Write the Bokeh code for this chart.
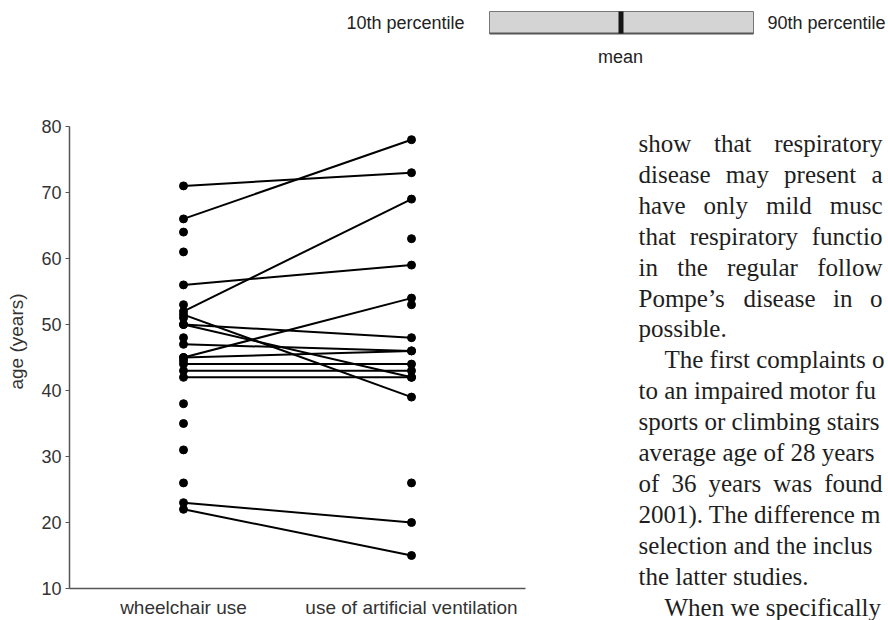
import math
from bokeh.plotting import figure
from bokeh.layouts import column, row
from bokeh.models import Range1d, FactorRange, FixedTicker
from bokeh.core.properties import value
from bokeh.embed import file_html
from bokeh.resources import INLINE

# ---- data ----
categories = ["wheelchair use", "use of artificial ventilation"]
paired_wheelchair = [71, 66, 52, 51.5, 56, 45, 45, 50, 50, 47, 44, 43, 42, 23, 22]
paired_ventilation = [73, 78, 69, 39, 59, 54, 46, 48, 42, 46, 44, 43, 42, 20, 15]
wheelchair_only = [64, 61, 53, 51, 48, 44.5, 38, 35, 31, 26]
ventilation_only = [63, 53, 26]
y_ticks = [10, 20, 30, 40, 50, 60, 70, 80]
y_title = "age (years)"

legend_left = "10th percentile"
legend_right = "90th percentile"
legend_mid = "mean"

# page text beside the chart
text_lines = [
    "show that respiratory",
    "disease may present a",
    "have only mild musc",
    "that respiratory functio",
    "in the regular follow",
    "Pompe\u2019s disease in o",
    "possible.",
    "The first complaints o",
    "to an impaired motor fu",
    "sports or climbing stairs",
    "average age of 28 years",
    "of 36 years was found",
    "2001). The difference m",
    "selection and the inclus",
    "the latter studies.",
    "When we specifically",
]
justified = [0, 1, 2, 3, 4, 5, 11]
indented = [7, 15]

SANS = "Liberation Sans"
SERIF = "Liberation Serif"
W, H = 886, 620
TOP_H = 100
BOT_H = H - TOP_H

# Times / Liberation Serif advance widths (1/1000 em) used to justify lines
TIMES_W = {" ": 250, "a": 444, "b": 500, "c": 444, "d": 500, "e": 444, "f": 333, "g": 500,
           "h": 500, "i": 278, "j": 278, "k": 500, "l": 278, "m": 778, "n": 500, "o": 500,
           "p": 500, "q": 500, "r": 333, "s": 389, "t": 278, "u": 500, "v": 500, "w": 722,
           "x": 500, "y": 500, "z": 444, "P": 556, "T": 611, "W": 944, "(": 333, ")": 333,
           ".": 250, "\u2019": 333, "-": 333}


def tw(s, size):
    return sum(TIMES_W.get(c, 500) for c in s) * size / 1000.0


def blank(width, height, x0, y0):
    f = figure(width=width, height=height, x_range=Range1d(x0, x0 + width),
               y_range=Range1d(y0 + height, y0), output_backend="svg",
               toolbar_location=None, min_border=0)
    f.axis.visible = False
    f.grid.visible = False
    f.outline_line_color = None
    return f


# ---- legend strip (page y 0..100) ----
top = blank(W, TOP_H, 0, 0)
top.quad(left=[489], right=[753], top=[11], bottom=[33], fill_color="#d4d4d4",
         line_color="#777777", line_width=1)
top.segment(x0=[489], y0=[33], x1=[753], y1=[33], line_color="#555555", line_width=2)
top.quad(left=[618], right=[623], top=[11], bottom=[33], fill_color="#151515", line_color=None)
top.text(x=[464], y=[22], text=[legend_left], text_align="right", text_baseline="middle",
         text_font=value(SANS), text_font_size="18px", text_color="#222222")
top.text(x=[767], y=[22], text=[legend_right], text_align="left", text_baseline="middle",
         text_font=value(SANS), text_font_size="18px", text_color="#222222")
top.text(x=[620], y=[56], text=[legend_mid], text_align="center", text_baseline="middle",
         text_font=value(SANS), text_font_size="18px", text_color="#222222")

# ---- y-axis title strip (page x 0..30) ----
YL_W = 30
ylab = blank(YL_W, BOT_H, 0, TOP_H)
ylab.text(x=[16], y=[341], text=[y_title], angle=math.pi / 2, text_align="center",
          text_baseline="middle", text_font=value(SANS), text_font_size="19px",
          text_color="#333333")

# ---- main chart (frame: page x 69..525, page y 126..595) ----
MAIN_W = 560 - YL_W
p = figure(x_range=FactorRange(*categories), y_range=Range1d(10, 80),
           width=MAIN_W, height=BOT_H,
           output_backend="svg", toolbar_location=None,
           min_border_left=69 - YL_W, min_border_right=35,
           min_border_top=26, min_border_bottom=25)
p.grid.visible = False
p.outline_line_color = None

p.yaxis.ticker = FixedTicker(ticks=y_ticks)
p.yaxis.minor_tick_line_color = None
p.yaxis.major_tick_in = 0
p.yaxis.major_tick_out = 4
p.yaxis.major_tick_line_color = "#555555"
p.yaxis.major_label_text_font = SANS
p.yaxis.major_label_text_font_size = "18px"
p.yaxis.major_label_text_color = "#333333"
p.yaxis.major_label_standoff = 4

p.xaxis.major_tick_line_color = None
p.xaxis.minor_tick_line_color = None
p.xaxis.major_label_text_font = SANS
p.xaxis.major_label_text_font_size = "19px"
p.xaxis.major_label_text_color = "#333333"
p.xaxis.major_label_standoff = 2

for ax in (p.xaxis, p.yaxis):
    ax.axis_line_color = "#555555"
    ax.axis_line_width = 1.5

n = len(paired_wheelchair)
p.segment(x0=[categories[0]] * n, y0=paired_wheelchair,
          x1=[categories[1]] * n, y1=paired_ventilation,
          line_color="black", line_width=2)
p.scatter(x=[categories[0]] * n, y=paired_wheelchair, size=8, color="black")
p.scatter(x=[categories[1]] * n, y=paired_ventilation, size=8, color="black")
p.scatter(x=[categories[0]] * len(wheelchair_only), y=wheelchair_only, size=8, color="black")
p.scatter(x=[categories[1]] * len(ventilation_only), y=ventilation_only, size=8, color="black")

# ---- page text (page x 560..886) ----
FS = 25
LEFT, RIGHT, INDENT = 638, 882, 26
t = blank(W - 560, BOT_H, 560, TOP_H)
wx, wy, wt = [], [], []
for i, line in enumerate(text_lines):
    base = 143.0 + 30.9 * i
    x0 = LEFT + (INDENT if i in indented else 0)
    if i in justified:
        words = line.split(" ")
        widths = [tw(w_, FS) for w_ in words]
        gap = (RIGHT - x0 - sum(widths)) / (len(words) - 1)
        x = x0
        for w_, wd in zip(words, widths):
            wx.append(x); wy.append(base); wt.append(w_)
            x += wd + gap
    else:
        wx.append(x0); wy.append(base); wt.append(line)
t.text(x=wx, y=wy, text=wt, text_baseline="alphabetic", text_align="left",
       text_font=value(SERIF), text_font_size=f"{FS}px", text_color="#1e1e1e")

layout = column(top, row(column(ylab), p, column(t)))
open("out.html", "w").write(file_html(layout, INLINE))
